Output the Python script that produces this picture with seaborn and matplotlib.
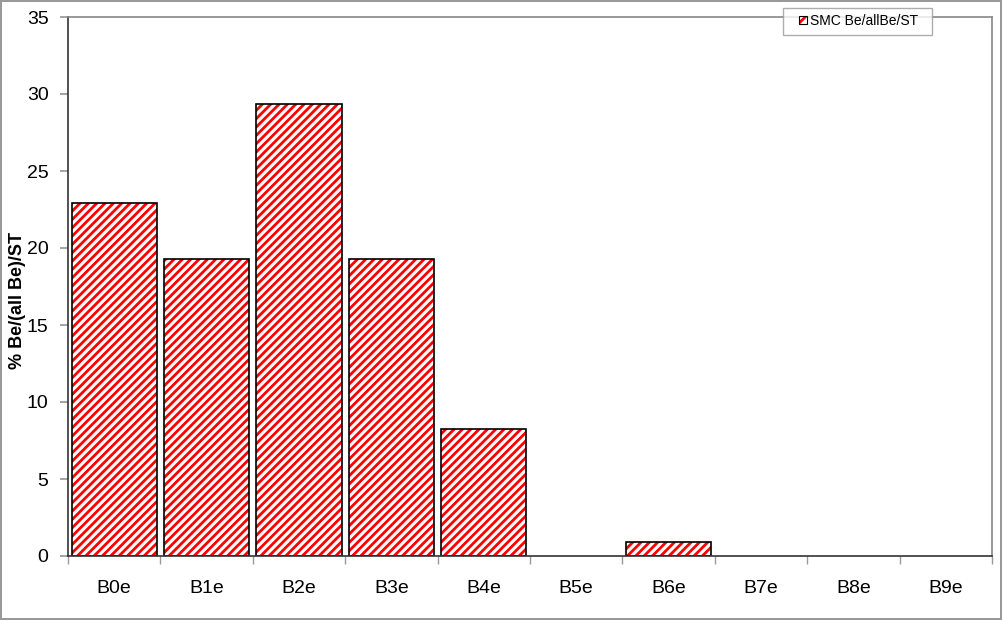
import matplotlib
matplotlib.use("Agg")
import matplotlib.pyplot as plt
import seaborn as sns
import pandas as pd
import numpy as np
from matplotlib.patches import Patch, Rectangle
from matplotlib.legend_handler import HandlerTuple, HandlerPatch

categories = ["B0e", "B1e", "B2e", "B3e", "B4e", "B5e", "B6e", "B7e", "B8e", "B9e"]
values = [22.94, 19.27, 29.36, 19.27, 8.26, 0.0, 0.92, 0.0, 0.0, 0.0]
series_name = "SMC Be/allBe/ST"
yticks = [0, 5, 10, 15, 20, 25, 30, 35]

sns.set_theme(style="white")
plt.rcParams['font.family'] = ['Liberation Sans', 'DejaVu Sans']
plt.rcParams['hatch.linewidth'] = 2.0
plt.rcParams['text.color'] = 'black'
plt.rcParams['axes.labelcolor'] = 'black'
plt.rcParams['xtick.labelcolor'] = 'black'
plt.rcParams['ytick.labelcolor'] = 'black'

df = pd.DataFrame({"cat": categories, "val": values})

fig = plt.figure(figsize=(10.02, 6.2), dpi=100)
fig.patch.set_edgecolor("#999999")
fig.patch.set_linewidth(1.5)
ax = fig.add_axes([68/1002, 1-556/620, (992-68)/1002, (556-17)/620])

sns.barplot(data=df, x="cat", y="val", ax=ax, color="white", edgecolor="red",
            hatch="////", linewidth=0, width=0.92, saturation=1)
sns.barplot(data=df, x="cat", y="val", ax=ax, fill=False, edgecolor="black",
            linewidth=1.2, width=0.92)
for p in ax.patches:
    if p.get_height() == 0:
        p.set_visible(False)

ax.set_xlim(-0.5, len(categories) - 0.5)
ax.set_ylim(0, 35)
ax.set_yticks(yticks)
ax.set_yticklabels([str(t) for t in yticks], fontsize=14)
ax.tick_params(axis="y", which="major", length=6, color="#999999", direction="out",
               left=True, pad=8, labelcolor="black")
ax.set_xticks(range(len(categories)))
ax.set_xticklabels(categories, fontsize=14)
ax.tick_params(axis="x", which="major", length=0, pad=17, labelcolor="black")
ax.set_xticks(np.arange(-0.5, len(categories), 1), minor=True)
ax.tick_params(axis="x", which="minor", length=6, color="#999999", direction="out", bottom=True)

ax.set_xlabel("")
ax.set_ylabel("% Be/(all Be)/ST", fontsize=13, fontweight="bold", color="black")
ax.yaxis.set_label_coords(-(68-26)/924, (556-300)/539)

for s in ["left", "bottom"]:
    ax.spines[s].set_color("#333333")
    ax.spines[s].set_linewidth(1.2)
for s in ["top", "right"]:
    ax.spines[s].set_color("#888888")
    ax.spines[s].set_linewidth(1.2)


def square_at_right(legend, orig_handle, xdescent, ydescent, width, height, fontsize):
    s = 5.8
    return Rectangle((-xdescent + width - s, -ydescent + (height - s) / 2), s, s)


h_fill = Patch(facecolor="white", edgecolor="red", hatch="///", linewidth=0)
h_edge = Patch(facecolor="none", edgecolor="black", linewidth=0.8)
leg = fig.legend([(h_fill, h_edge)], [series_name + "  "], loc="upper left",
                 handler_map={tuple: HandlerTuple(ndivide=1, pad=0),
                              Patch: HandlerPatch(patch_func=square_at_right)},
                 bbox_to_anchor=(783/1002, 1-8/620), fontsize=10,
                 frameon=True, fancybox=False, handlelength=1.3, handleheight=0.8,
                 handletextpad=0.2, borderpad=0.45, borderaxespad=0)
leg.get_frame().set_edgecolor("#999999")
leg.get_frame().set_linewidth(1.0)
leg.set_zorder(10)
for t in leg.get_texts():
    t.set_color("black")

fig.savefig("out.png", dpi=100)
